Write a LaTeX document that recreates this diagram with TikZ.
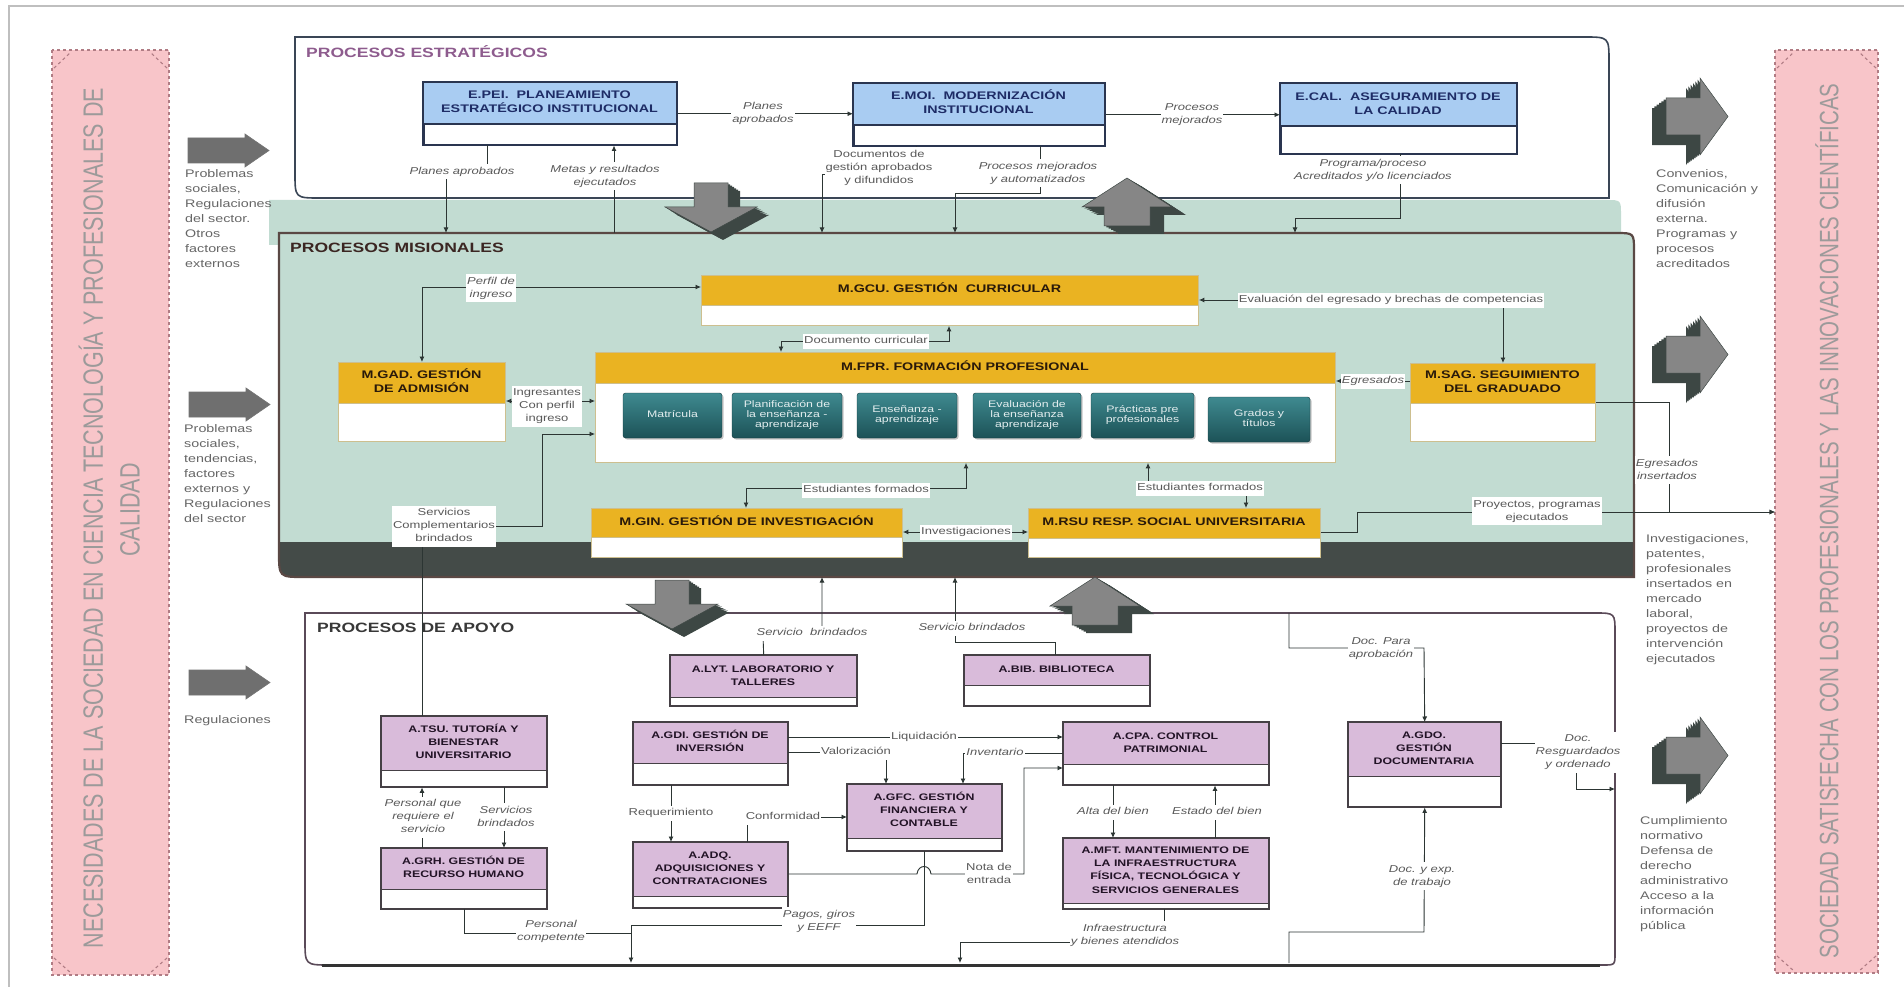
\documentclass[tikz,border=0pt]{standalone}
\usepackage{fontspec}
\setmainfont{Liberation Sans}
\usepackage{graphicx}
\usetikzlibrary{arrows.meta,shadows}

\definecolor{pinkband}{HTML}{F8C5C9}
\definecolor{pinkedge}{HTML}{B07C84}
\definecolor{bandtext}{HTML}{9C9A9A}
\definecolor{mint}{HTML}{C2DCD2}
\definecolor{misedge}{HTML}{5A4844}
\definecolor{misdark}{HTML}{444B48}
\definecolor{strataedge}{HTML}{3A4656}
\definecolor{ehdr}{HTML}{A9CCF2}
\definecolor{eedge}{HTML}{2A3550}
\definecolor{etext}{HTML}{1E2C66}
\definecolor{mhdr}{HTML}{EAB322}
\definecolor{medge}{HTML}{CDBF8F}
\definecolor{mtext}{HTML}{2A1A0A}
\definecolor{ahdr}{HTML}{D9BBDA}
\definecolor{aedge}{HTML}{454045}
\definecolor{atext}{HTML}{221326}
\definecolor{apedge}{HTML}{5A4A58}
\definecolor{tealtop}{HTML}{3F8A90}
\definecolor{tealbot}{HTML}{1C5257}
\definecolor{arrlight}{HTML}{868686}
\definecolor{arrdark}{HTML}{3D4744}
\definecolor{blockgray}{HTML}{6F6F6F}
\definecolor{conncol}{HTML}{2C3533}
\definecolor{labcol}{HTML}{595959}
\definecolor{titlepurple}{HTML}{8E5C8E}
\definecolor{titlebrown}{HTML}{3B2622}

\newcommand\stretchtxt[2]{\scalebox{1.3}[1]{\begin{tabular}{@{}#1@{}}#2\end{tabular}}}

\tikzset{
  ebox/.style={draw=eedge, line width=1.5pt, fill=white},
  ehead/.style={fill=ehdr},
  eline/.style={draw=eedge, line width=1.1pt},
  etxt/.style={inner sep=0pt, font=\fontsize{11}{14}\selectfont\bfseries, text=etext},
  mbox/.style={draw=medge, line width=0.9pt, fill=white},
  mhead/.style={fill=mhdr},
  mline/.style={draw=medge, line width=0.6pt},
  mtxt/.style={inner sep=0pt, font=\fontsize{11}{14}\selectfont\bfseries, text=mtext},
  abox/.style={draw=aedge, line width=1.4pt, fill=white},
  ahead/.style={fill=ahdr},
  aline/.style={draw=aedge, line width=1pt},
  atxt/.style={inner sep=0pt, font=\fontsize{9.5}{13.3}\selectfont\bfseries, text=atext},
}

\newcommand\procbox[8]{%
  \node[#7box, anchor=north west, inner sep=0pt, minimum width={(#4-#2)*1pt}, minimum height={(#6-#3)*1pt}] (#1) at (#2,#3) {};
  \fill[#7head] (#2,#3) rectangle (#4,#5);
  \draw[#7line] (#2,#5) -- (#4,#5);
  \draw[#7box, fill=none] (#1.north west) rectangle (#1.south east);
  \node[#7txt] (#1t) at ({(#2+#4)/2},{(#3+#5)/2}) {\stretchtxt{c}{#8}};
}

\begin{document}
\begin{tikzpicture}[x=1pt,y=-1pt,
  conn/.style={draw=conncol, line width=0.9pt, ->, >={Latex[length=5.5pt,width=5pt]}},
  conn2/.style={draw=conncol, line width=0.9pt, <->, >={Latex[length=5.5pt,width=5pt]}},
  wire/.style={draw=conncol, line width=0.9pt},
  lbl/.style={fill=white, inner sep=1pt, font=\fontsize{10}{13}\selectfont\itshape, text=labcol},
  lblu/.style={lbl, font=\fontsize{10}{13}\selectfont},
  sidetxt/.style={anchor=north west, inner sep=0pt, font=\fontsize{11}{15}\selectfont, text=black!60},
  bandtxt/.style={rotate=90, inner sep=0pt, text=bandtext},
  sectitle/.style={anchor=west, inner sep=0pt, font=\fontsize{13.5}{14}\selectfont\bfseries},
  tealbox/.style={rounded corners=2.5pt, top color=tealtop, bottom color=tealbot, draw=tealbot!70!black, line width=0.4pt, drop shadow={shadow xshift=1.5pt, shadow yshift=-1.5pt, opacity=0.45}, inner sep=0pt},
  tealtxt/.style={inner sep=0pt, font=\fontsize{9.5}{10.2}\selectfont, text=white!85!tealtop},
  blockarr/.style={fill=blockgray, draw=black!55, line width=0.6pt},
  dnshape/.style={insert path={(-17,0)--(17,0)--(17,24)--(46,24)--(0,49)--(-46,24)--(-17,24)--cycle}},
  upshape/.style={insert path={(0,0)--(45,29)--(23,29)--(23,48)--(-23,48)--(-23,29)--(-45,29)--cycle}},
  rtshape/.style={insert path={(0,0)--(34,0)--(34,-20)--(62,18.5)--(34,57)--(34,37)--(0,37)--cycle}},
  lashape/.style={insert path={(0,0)--(57,0)--(57,-4)--(81,12.5)--(57,29)--(57,25)--(0,25)--cycle}},
]
\useasboundingbox (0,0) rectangle (1904,987);
\fill[white] (0,0) rectangle (1904,987);
\draw[black!25, line width=1.2pt] (9,987) -- (9,6) -- (1904,6);

% ---------- side bands
\fill[pinkband] (52,50) rectangle (169,975);
\draw[pinkedge, dashed, line width=1.1pt] (52,50) rectangle (169,975);
\draw[pinkedge, dashed, line width=1.1pt] (54,68)--(71,52) (167,68)--(150,52) (54,958)--(71,973) (167,958)--(150,973);
\node[bandtxt, font=\fontsize{21.5}{22}\selectfont] (lband1) at (91,518) {\scalebox{1}[1.3]{NECESIDADES DE LA SOCIEDAD EN CIENCIA TECNOLOGÍA Y PROFESIONALES DE}};
\node[bandtxt, font=\fontsize{21.5}{22}\selectfont] (lband2) at (130,510) {\scalebox{1}[1.3]{CALIDAD}};

\fill[pinkband] (1775,50) rectangle (1878,973);
\draw[pinkedge, dashed, line width=1.1pt] (1775,50) rectangle (1878,973);
\draw[pinkedge, dashed, line width=1.1pt] (1777,68)--(1794,52) (1876,68)--(1859,52) (1777,956)--(1794,971) (1876,956)--(1859,971);
\node[bandtxt, font=\fontsize{20.5}{21}\selectfont] (rband) at (1827,521) {\scalebox{1}[1.3]{SOCIEDAD SATISFECHA CON LOS PROFESIONALES Y LAS INNOVACIONES CIENTÍFICAS}};

% ---------- containers
\fill[mint] (269,200) -- (1606,200) .. controls (1621,200) .. (1621,215) -- (1621,245) -- (269,245) -- cycle;
\filldraw[fill=white, draw=strataedge, line width=1.6pt] (295,37) -- (1584,37) .. controls (1609,37) .. (1609,62) -- (1609,198) -- (320,198) .. controls (295,198) .. (295,173) -- cycle;
\node[sectitle, text=titlepurple] (ttlE) at (306,52) {\scalebox{1.3}[1]{PROCESOS ESTRATÉGICOS}};

\fill[mint] (279,233) -- (1616,233) .. controls (1634,233) .. (1634,251) -- (1634,577) -- (304,577) .. controls (279,577) .. (279,552) -- cycle;
\begin{scope}
  \clip (279,233) -- (1616,233) .. controls (1634,233) .. (1634,251) -- (1634,577) -- (304,577) .. controls (279,577) .. (279,552) -- cycle;
  \fill[misdark] (270,542) rectangle (1640,585);
\end{scope}
\draw[misedge, line width=2.2pt] (279,233) -- (1616,233) .. controls (1634,233) .. (1634,251) -- (1634,577) -- (304,577) .. controls (279,577) .. (279,552) -- cycle;
\node[sectitle, text=titlebrown] (ttlM) at (290,248) {\scalebox{1.3}[1]{PROCESOS MISIONALES}};

\filldraw[fill=white, draw=apedge, line width=1.6pt] (305,613) -- (1595,613) .. controls (1615,613) .. (1615,633) -- (1615,953) .. controls (1615,965) .. (1603,965) -- (330,965) .. controls (305,965) .. (305,940) -- cycle;
\draw[black!80, line width=3pt] (322,965) -- (1600,965);
\node[sectitle, text=black!78] (ttlA) at (317,628) {\scalebox{1.3}[1]{PROCESOS DE APOYO}};

% ---------- 3D arrows
\foreach \s in {1,...,6} \fill[arrdark, shift={(711+2*\s,183+1.333*\s)}, dnshape];
\filldraw[fill=arrlight, draw=arrdark, line width=0.5pt, shift={(711,183)}, dnshape];
\foreach \s in {1,...,6} \fill[arrdark, shift={(1127+2.333*\s,178+1.333*\s)}, upshape];
\filldraw[fill=arrlight, draw=arrdark, line width=0.5pt, shift={(1127,178)}, upshape];
\foreach \s in {1,...,6} \fill[arrdark, shift={(672+2*\s,580+1.333*\s)}, dnshape];
\filldraw[fill=arrlight, draw=arrdark, line width=0.5pt, shift={(672,580)}, dnshape];
\foreach \s in {1,...,6} \fill[arrdark, shift={(1095+2.333*\s,577+1.333*\s)}, upshape];
\filldraw[fill=arrlight, draw=arrdark, line width=0.5pt, shift={(1095,577)}, upshape];
\foreach \y in {98,336,737} {
  \foreach \s in {1,...,6} \fill[arrdark, shift={(1666-2.333*\s,\y+1.667*\s)}, rtshape];
  \filldraw[fill=arrlight, draw=arrdark, line width=0.5pt, shift={(1666,\y)}, rtshape];
}

% ---------- left input arrows and texts
\filldraw[blockarr, shift={(188,138)}, lashape];
\filldraw[blockarr, shift={(189,392)}, lashape];
\filldraw[blockarr, shift={(189,670)}, lashape];
\node[sidetxt] (in1) at (185,166.5) {\stretchtxt{l}{Problemas\\sociales,\\Regulaciones\\del sector.\\Otros\\factores\\externos}};
\node[sidetxt] (in2) at (184,421.5) {\stretchtxt{l}{Problemas\\sociales,\\tendencias,\\factores\\externos y\\Regulaciones\\del sector}};
\node[sidetxt] (in3) at (184,712.5) {\stretchtxt{l}{Regulaciones}};
\node[sidetxt] (out1) at (1656,166.5) {\stretchtxt{l}{Convenios,\\Comunicación y\\difusión\\externa.\\Programas y\\procesos\\acreditados}};
\node[sidetxt] (out2) at (1646,531.5) {\stretchtxt{l}{Investigaciones,\\patentes,\\profesionales\\insertados en\\mercado\\laboral,\\proyectos de\\intervención\\ejecutados}};
\node[sidetxt] (out3) at (1640,813.5) {\stretchtxt{l}{Cumplimiento\\normativo\\Defensa de\\derecho\\administrativo\\Acceso a la\\información\\pública}};

% ---------- process boxes
\procbox{epei}{423}{82}{676}{124}{144}{e}{E.PEI.\ \ PLANEAMIENTO\\ESTRATÉGICO INSTITUCIONAL}
\procbox{emoi}{853}{83}{1104}{125}{145}{e}{E.MOI.\ \ MODERNIZACIÓN\\INSTITUCIONAL}
\procbox{ecal}{1280}{83}{1516}{126}{153}{e}{E.CAL.\ \ ASEGURAMIENTO DE\\LA CALIDAD}

\procbox{gcu}{701}{275}{1198}{305}{325}{m}{M.GCU. GESTIÓN\ \ CURRICULAR}
\procbox{gad}{338}{362}{505}{403}{441}{m}{M.GAD. GESTIÓN\\DE ADMISIÓN}
\procbox{fpr}{595}{352}{1335}{383}{462}{m}{M.FPR. FORMACIÓN PROFESIONAL}
\procbox{sag}{1410}{363}{1595}{403}{441}{m}{M.SAG. SEGUIMIENTO\\DEL GRADUADO}
\procbox{gin}{591}{508}{902}{537}{557}{m}{M.GIN. GESTIÓN DE INVESTIGACIÓN}
\procbox{rsu}{1028}{508}{1320}{538}{557}{m}{M.RSU RESP. SOCIAL UNIVERSITARIA}

\node[tealbox, minimum width=99pt, minimum height=45pt] (tm1) at (672.5,415.5) {};
\node[tealtxt] at (tm1) {\stretchtxt{c}{Matrícula}};
\node[tealbox, minimum width=110pt, minimum height=45pt] (tm2) at (787,415.5) {};
\node[tealtxt] at (tm2) {\stretchtxt{c}{Planificación de\\la enseñanza -\\aprendizaje}};
\node[tealbox, minimum width=100pt, minimum height=45pt] (tm3) at (907,415.5) {};
\node[tealtxt] at (tm3) {\stretchtxt{c}{Enseñanza -\\aprendizaje}};
\node[tealbox, minimum width=108pt, minimum height=45pt] (tm4) at (1027,415.5) {};
\node[tealtxt] at (tm4) {\stretchtxt{c}{Evaluación de\\la enseñanza\\aprendizaje}};
\node[tealbox, minimum width=103pt, minimum height=45pt] (tm5) at (1142.5,415.5) {};
\node[tealtxt] at (tm5) {\stretchtxt{c}{Prácticas pre\\profesionales}};
\node[tealbox, minimum width=102pt, minimum height=45pt] (tm6) at (1259,419.5) {};
\node[tealtxt] at (tm6) {\stretchtxt{c}{Grados y\\títulos}};

\procbox{tsu}{381}{716}{546}{770}{786}{a}{A.TSU. TUTORÍA Y\\BIENESTAR\\UNIVERSITARIO}
\procbox{grh}{381}{848}{546}{889}{908}{a}{A.GRH. GESTIÓN DE\\RECURSO HUMANO}
\procbox{lyt}{670}{655}{856}{697}{705}{a}{A.LYT. LABORATORIO Y\\TALLERES}
\procbox{bib}{964}{655}{1149}{685}{705}{a}{A.BIB. BIBLIOTECA}
\procbox{gdi}{633}{722}{787}{763}{784}{a}{A.GDI. GESTIÓN DE\\INVERSIÓN}
\procbox{cpa}{1063}{722}{1268}{764}{784}{a}{A.CPA. CONTROL\\PATRIMONIAL}
\procbox{gfc}{847}{784}{1001}{838}{850}{a}{A.GFC. GESTIÓN\\FINANCIERA Y\\CONTABLE}
\procbox{adq}{633}{842}{787}{896}{907}{a}{A.ADQ.\\ADQUISICIONES Y\\CONTRATACIONES}
\procbox{mft}{1063}{838}{1268}{903}{908}{a}{A.MFT. MANTENIMIENTO DE\\LA INFRAESTRUCTURA\\FÍSICA, TECNOLÓGICA Y\\SERVICIOS GENERALES}
\procbox{gdo}{1348}{722}{1500}{776}{806}{a}{A.GDO.\\GESTIÓN\\DOCUMENTARIA}

% ---------- connectors: strategic
\draw[conn] (epei.east) -- (epei.east -| emoi.west);
\draw[conn] (emoi.east) -- (emoi.east -| ecal.west);
\draw[conn] (epei.south -| 487,0) |- (446,172) -- (446,233);
\draw[conn] (614,233) -- (epei.south -| 614,0);
\draw[conn] (emoi.south -| 916,0) |- (822,174) -- (822,233);
\draw[conn] (emoi.south -| 1040,0) |- (955,193) -- (955,233);
\draw[conn] (ecal.south -| 1400,0) |- (1295,218) -- (1295,233);

% ---------- connectors: misionales
\draw[conn2] (gad.north) |- (gcu.west |- 0,287);
\draw[conn2] (fpr.north -| 781,0) |- (949,341) -- (gcu.south -| 949,0);
\draw[conn2] (gcu.east |- 0,300) -| (sag.north);
\draw[conn2] (gad.east |- 0,401) -- (fpr.west |- 0,401);
\draw[conn] (tsu.north -| 422,0) -- (422,526) -- (542,526) -- (542,434) -- (fpr.west |- 0,434);
\draw[conn] (sag.west |- 0,381) -- (fpr.east |- 0,381);
\draw[conn2] (gin.north -| 746,0) |- (966,488) -- (fpr.south -| 966,0);
\draw[conn2] (fpr.south -| 1148,0) |- (1246,488) -- (rsu.north -| 1246,0);
\draw[conn2] (gin.east |- 0,532) -- (rsu.west |- 0,532);
\draw[conn] (sag.east |- 0,402) -- (1669,402) -- (1669,512) -- (1775,512);
\draw[conn] (rsu.east |- 0,532) -- (1357,532) -- (1357,512) -- (1775,512);

% ---------- connectors: apoyo
\draw[conn] (lyt.north) -- (763,636) -| (822,577);
\draw[conn] (bib.north -| 1055,0) |- (955,642) -- (955,577);
\draw[conn] (grh.north -| 422,0) -- (tsu.south -| 422,0);
\draw[conn] (tsu.south -| 504,0) -- (grh.north -| 504,0);
\draw[wire] (grh.south -| 464,0) |- (631,933);
\draw[conn] (gfc.south -| 924,0) |- (631,925) -- (631,963);
\draw[conn] (gdi.east |- 0,737) -- (cpa.west |- 0,737);
\draw[conn] (gdi.east |- 0,752) -| (gfc.north -| 886,0);
\draw[conn] (cpa.west |- 0,753) -| (gfc.north -| 963,0);
\draw[conn] (gdi.south -| 671,0) -- (adq.north -| 671,0);
\draw[conn] (adq.north -| 747,0) |- (gfc.west |- 0,817);
\draw[conn] (adq.east |- 0,874) -- (917,874) .. controls (918,864) and (930,864) .. (931,874) -- (1024,874) -- (1024,768) -- (cpa.west |- 0,768);
\draw[conn] (cpa.south -| 1113,0) -- (mft.north -| 1113,0);
\draw[conn] (mft.north -| 1215,0) -- (cpa.south -| 1215,0);
\draw[conn] (mft.south -| 1164,0) |- (960,942) -- (960,963);
\draw[conn] (1289,613) |- (1424,648) -- (gdo.north);
\draw[conn] (1289,963) |- (1424,932) -- (gdo.south);
\draw[conn] (gdo.east |- 0,743) -| (1576,789) -- (1615,789);

% ---------- connector labels
\node[lbl] (l01) at (763,113) {\stretchtxt{c}{Planes\\aprobados}};
\node[lbl] (l02) at (1192,114) {\stretchtxt{c}{Procesos\\mejorados}};
\node[lbl] (l03) at (462,172) {\stretchtxt{c}{Planes aprobados}};
\node[lbl] (l04) at (605,176) {\stretchtxt{c}{Metas y resultados\\ejecutados}};
\node[lblu] (l05) at (879,168) {\stretchtxt{c}{Documentos de\\gestión aprobados\\y difundidos}};
\node[lbl] (l06) at (1038,173) {\stretchtxt{c}{Procesos mejorados\\y automatizados}};
\node[lbl] (l07) at (1373,170) {\stretchtxt{c}{Programa/proceso\\Acreditados y/o licenciados}};
\node[lbl] (l08) at (491,288) {\stretchtxt{c}{Perfil de\\ingreso}};
\node[lblu] (l09) at (866,341) {\stretchtxt{c}{Documento curricular}};
\node[lblu] (l10) at (1391,300) {\stretchtxt{c}{Evaluación del egresado y brechas de competencias}};
\node[lblu] (l11) at (547,406) {\stretchtxt{c}{Ingresantes\\Con perfil\\ingreso}};
\node[lblu] (l12) at (444,526) {\stretchtxt{c}{Servicios\\Complementarios\\brindados}};
\node[lbl] (l13) at (1373,381) {\stretchtxt{c}{Egresados}};
\node[lblu] (l14) at (866,490) {\stretchtxt{c}{Estudiantes formados}};
\node[lblu] (l15) at (1200,488) {\stretchtxt{c}{Estudiantes formados}};
\node[lblu] (l16) at (966,532) {\stretchtxt{c}{Investigaciones}};
\node[lbl] (l17) at (1667,470) {\stretchtxt{c}{Egresados\\insertados}};
\node[lblu] (l18) at (1537,511) {\stretchtxt{c}{Proyectos, programas\\ejecutados}};
\node[lbl] (l19) at (812,633) {\stretchtxt{c}{Servicio\ \ brindados}};
\node[lbl] (l20) at (972,628) {\stretchtxt{c}{Servicio brindados}};
\node[lbl] (l21) at (423,817) {\stretchtxt{c}{Personal que\\requiere el\\servicio}};
\node[lbl] (l22) at (506,817) {\stretchtxt{c}{Servicios\\brindados}};
\node[lbl] (l23) at (551,931) {\stretchtxt{c}{Personal\\competente}};
\node[lbl] (l24) at (819,921) {\stretchtxt{c}{Pagos, giros\\y EEFF}};
\node[lblu] (l25) at (924,737) {\stretchtxt{c}{Liquidación}};
\node[lblu] (l26) at (856,752) {\stretchtxt{c}{Valorización}};
\node[lbl] (l27) at (995,753) {\stretchtxt{c}{Inventario}};
\node[lblu] (l28) at (671,813) {\stretchtxt{c}{Requerimiento}};
\node[lblu] (l29) at (783,817) {\stretchtxt{c}{Conformidad}};
\node[lblu] (l30) at (989,874) {\stretchtxt{c}{Nota de\\entrada}};
\node[lbl] (l31) at (1113,812) {\stretchtxt{c}{Alta del bien}};
\node[lbl] (l32) at (1217,812) {\stretchtxt{c}{Estado del bien}};
\node[lbl] (l33) at (1125,935) {\stretchtxt{c}{Infraestructura\\y bienes atendidos}};
\node[lbl] (l34) at (1381,648) {\stretchtxt{c}{Doc. Para\\aprobación}};
\node[lbl] (l35) at (1422,876) {\stretchtxt{c}{Doc. y exp.\\de trabajo}};
\node[lbl] (l36) at (1578,752) {\stretchtxt{c}{Doc.\\Resguardados\\y ordenado}};
\end{tikzpicture}
\end{document}
